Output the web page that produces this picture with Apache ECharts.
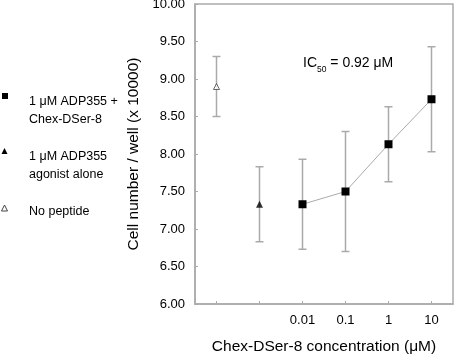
<!DOCTYPE html>
<html>
<head>
<meta charset="utf-8">
<script src="https://cdn.jsdelivr.net/npm/echarts@6/dist/echarts.min.js"></script>
<style>
  html,body{margin:0;padding:0;background:#fff;}
  #myChart{width:454px;height:355px;}
</style>
</head>
<body>
<div id="myChart"></div>
<script>
  // x categories: first two slots are the controls, then the dose series
  const categories = ['', '', '0.01', '0.1', '1', '10'];
  const yTicks = [6, 6.5, 7, 7.5, 8, 8.5, 9, 9.5, 10];

  // no peptide (open triangle)
  const noPepMean = [8.90];
  const noPepLow = [8.50];
  const noPepHigh = [9.30];

  // 1 uM ADP355 agonist alone (filled triangle)
  const agonistMean = [7.33];
  const agonistLow = [6.83];
  const agonistHigh = [7.83];

  // 1 uM ADP355 + Chex-DSer-8 (squares)
  const doseMean = [7.33, 7.50, 8.13, 8.73];
  const doseLow = [6.73, 6.70, 7.63, 8.03];
  const doseHigh = [7.93, 8.30, 8.63, 9.43];

  let font = 'Liberation Sans, Arial, sans-serif';
  let grey = '#aaaaaa';

  // error bar rows: [x index, low, high]
  let errData = [];
  errData.push([0, noPepLow[0], noPepHigh[0]]);
  errData.push([1, agonistLow[0], agonistHigh[0]]);
  for(let i=0;i<doseMean.length;i++){
    errData.push([i+2, doseLow[i], doseHigh[i]]);
  }

  let doseData = [];
  for(let i=0;i<doseMean.length;i++){
    doseData.push([i+2, doseMean[i]]);
  }

  let myChart = echarts.init(document.getElementById('myChart'));
  let option = {
    animation:false,
    grid:{
      left:195,
      right:1,
      top:4,
      bottom:51,
      outerBoundsMode:'none',
      containLabel:false,
      show:true,
      borderColor:grey,
      borderWidth:1.5
    },
    xAxis:{
      type:'category',
      data:categories,
      boundaryGap:true,
      name:'Chex-DSer-8 concentration (μM)',
      nameLocation:'middle',
      nameGap:35,
      nameTextStyle:{color:'#000',fontSize:15.5,fontFamily:font},
      axisLine:{lineStyle:{color:grey,width:1.5}},
      axisTick:{show:true,inside:true,length:3,alignWithLabel:true,interval:0,lineStyle:{color:grey}},
      axisLabel:{color:'#000',fontSize:13,fontFamily:font,margin:10,interval:0},
      splitLine:{show:false}
    },
    yAxis:{
      type:'value',
      min:yTicks[0],
      max:yTicks[yTicks.length-1],
      interval:0.5,
      name:'Cell number / well (x 10000)',
      nameLocation:'middle',
      nameGap:45,
      nameTextStyle:{color:'#000',fontSize:15.5,fontFamily:font},
      axisLine:{show:true,lineStyle:{color:grey,width:1.5}},
      axisTick:{show:true,inside:true,length:3,lineStyle:{color:grey}},
      axisLabel:{
        color:'#000',fontSize:13,fontFamily:font,margin:10,padding:[3,0,0,0],
        formatter:function(v){ return v.toFixed(2); }
      },
      splitLine:{show:false}
    },
    series:[
      {
        // error bars with caps
        type:'custom',
        z:1,
        data:errData,
        renderItem:function(params, api){
          let x = api.value(0);
          let top = api.coord([x, api.value(2)]);
          let bot = api.coord([x, api.value(1)]);
          let cap = 4;
          let st = {stroke:grey, lineWidth:1.5};
          return {
            type:'group',
            children:[
              {type:'line',shape:{x1:top[0],y1:top[1],x2:bot[0],y2:bot[1]},style:st},
              {type:'line',shape:{x1:top[0]-cap,y1:top[1],x2:top[0]+cap,y2:top[1]},style:st},
              {type:'line',shape:{x1:bot[0]-cap,y1:bot[1],x2:bot[0]+cap,y2:bot[1]},style:st}
            ]
          };
        }
      },
      {
        name:'No peptide',
        type:'scatter',
        z:3,
        symbol:'triangle',
        symbolSize:6,
        itemStyle:{color:'#fff',borderColor:'#444',borderWidth:1},
        data:[[0, noPepMean[0]]]
      },
      {
        name:'agonist alone',
        type:'scatter',
        z:3,
        symbol:'triangle',
        symbolSize:7,
        itemStyle:{color:'#000'},
        data:[[1, agonistMean[0]]]
      },
      {
        name:'ADP355 + Chex-DSer-8',
        type:'line',
        z:3,
        symbol:'rect',
        symbolSize:8,
        showAllSymbol:true,
        itemStyle:{color:'#000'},
        lineStyle:{color:grey,width:1},
        data:doseData
      }
    ],
    graphic:[
      // IC50 note
      {
        type:'text', left:303, top:56,
        style:{
          text:'{a|IC}{s|50}{a| = 0.92 μM}',
          rich:{
            a:{fontSize:14,fontFamily:font,fill:'#000',verticalAlign:'top'},
            s:{fontSize:8.5,fontFamily:font,fill:'#000',padding:[9,0,0,0]}
          }
        }
      },
      // hand-made legend on the left
      {type:'rect', left:2, top:93, shape:{width:6,height:6}, style:{fill:'#000'}},
      {type:'text', left:29, top:93, style:{text:'1 μM ADP355 +\nChex-DSer-8',fontSize:12.5,fontFamily:font,fill:'#000',lineHeight:18}},
      {type:'polygon', shape:{points:[[4.5,148],[1.5,154],[7.5,154]]}, style:{fill:'#000'}},
      {type:'text', left:29, top:148, style:{text:'1 μM ADP355\nagonist alone',fontSize:12.5,fontFamily:font,fill:'#000',lineHeight:18}},
      {type:'polygon', shape:{points:[[4.5,205],[1.5,211],[7.5,211]]}, style:{fill:'#fff',stroke:'#444',lineWidth:1}},
      {type:'text', left:29, top:203, style:{text:'No peptide',fontSize:12.5,fontFamily:font,fill:'#000',lineHeight:18}}
    ]
  };
  myChart.setOption(option);
</script>
</body>
</html>
